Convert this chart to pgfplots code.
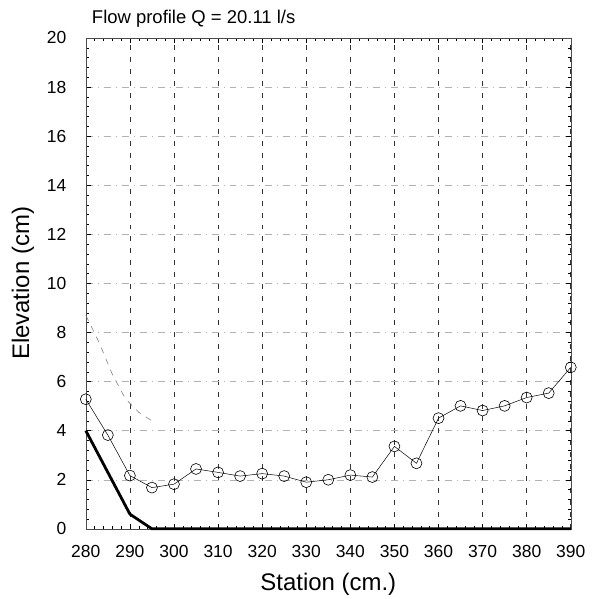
\documentclass[border=0pt]{standalone}
\usepackage{pgfplots}
\pgfplotsset{compat=1.18}
\usepackage{fontspec}
\setmainfont{Liberation Sans}
\begin{document}
\begin{tikzpicture}
\begin{axis}[
  scale only axis, width=486pt, height=492pt,
  xmin=280, xmax=390, ymin=0, ymax=20,
  xtick={280,290,...,390}, ytick={0,2,...,20},
  minor x tick num=4, minor y tick num=4,
  tick align=inside,
  major tick length=5pt, minor tick length=3pt,
  tick style={black, thin},
  axis line style={black!70, thin},
  xmajorgrids, ymajorgrids,
  x grid style={black!80, dash pattern=on 5pt off 7pt, line width=0.6pt},
  y grid style={black!30, dash pattern=on 7pt off 5pt on 1pt off 5pt, line width=0.5pt},
  /pgf/number format/assume math mode=true,
  /pgf/number format/1000 sep={},
  ticklabel style={font=\fontsize{17.5}{19}\selectfont},
  xticklabel style={yshift=-13pt},
  yticklabel style={xshift=-16pt},
  xlabel={Station (cm.)}, ylabel={Elevation (cm)},
  label style={font=\fontsize{24}{26}\selectfont},
  xlabel style={at={(axis description cs:0.5,0)}, anchor=base, yshift=-62pt},
  ylabel style={at={(axis description cs:0,0.5)}, anchor=center, yshift=63pt},
  clip=false,
]
\addplot[black!50, dash pattern=on 6pt off 6pt, line width=0.6pt] coordinates {
(280,8.7) (283,7.6) (286,6.3) (289,5.3) (292,4.75) (295,4.4)};
\addplot[black, line width=2.8pt] coordinates {
(280,4.0) (290,0.6) (295,0) (390,0)};
\addplot[black, line width=0.5pt, mark=o, mark size=5.5pt, mark options={line width=0.6pt}] coordinates {
(280,5.28) (285,3.82) (290,2.17) (295,1.68) (300,1.82) (305,2.44) (310,2.30)
(315,2.15) (320,2.25) (325,2.15) (330,1.90) (335,2.00) (340,2.19) (345,2.11)
(350,3.36) (355,2.67) (360,4.51) (365,5.01) (370,4.82) (375,5.01) (380,5.35)
(385,5.53) (390,6.58)};
\node[anchor=base west, font=\fontsize{18.5}{20}\selectfont, inner sep=0pt] at ([xshift=6pt,yshift=14pt]rel axis cs:0,1) {Flow profile Q = 20.11 l/s};
\coordinate (bl) at (rel axis cs:0,0);
\coordinate (tr) at (rel axis cs:1,1);
\end{axis}
\path[use as bounding box] ([xshift=-86pt,yshift=-69pt]bl) rectangle ([xshift=23pt,yshift=38pt]tr);
\end{tikzpicture}
\end{document}
